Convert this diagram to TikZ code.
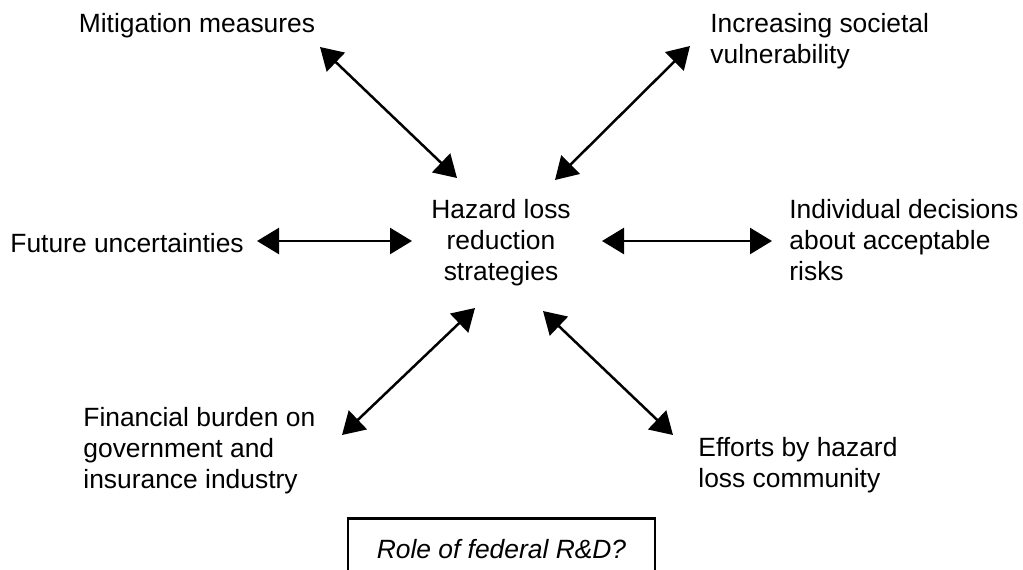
\documentclass[tikz,border=0pt]{standalone}
\usepackage{fontspec}
\setmainfont{Liberation Sans}
\usetikzlibrary{arrows.meta}

\tikzset{
  txt/.style={inner sep=0pt, font=\fontsize{13.2}{15.5}\selectfont},
  twoway/.style={{Triangle[length=11pt,width=13pt]}-{Triangle[length=11pt,width=13pt]}, line width=1.25pt}
}

\begin{document}
\begin{tikzpicture}[x=0.5pt,y=-0.5pt]
  \clip (0,0) rectangle (1023,569);
  \node[txt, anchor=north] (hazard) at (501,199) [align=center] {Hazard loss\\reduction\\strategies};
  \node[txt, anchor=north] (mitig) at (197,13) {Mitigation measures};
  \node[txt, anchor=north west, align=left] (vuln) at (710,13) {Increasing societal\\vulnerability};
  \node[txt, anchor=north west] (future) at (10,233) {Future uncertainties};
  \node[txt, anchor=north west, align=left] (indiv) at (789,199) {Individual decisions\\about acceptable\\risks};
  \node[txt, anchor=north west, align=left] (burden) at (83,407) {Financial burden on\\government and\\insurance industry};
  \node[txt, anchor=north west, align=left] (efforts) at (698,437) {Efforts by hazard\\loss community};
  \node[txt, draw, line width=1.25pt, minimum width=153.5pt, minimum height=30.5pt, font=\fontsize{13.2}{15.5}\selectfont\itshape] (role) at (501.5,549) {Role of federal R\&D?};
  % arrow ends
  \coordinate (m1) at (320,47);  \coordinate (m2) at (457,178);
  \coordinate (v1) at (690,46);  \coordinate (v2) at (555,180);
  \coordinate (f1) at (257,241); \coordinate (f2) at (412,241);
  \coordinate (i1) at (602,241); \coordinate (i2) at (772,241);
  \coordinate (b1) at (475,308); \coordinate (b2) at (342,435);
  \coordinate (e1) at (543,311); \coordinate (e2) at (673,435);
  \foreach \a/\b in {m1/m2,v1/v2,f1/f2,i1/i2,b1/b2,e1/e2}
  {
    \draw[twoway] (\a) -- (\b);
  }
\end{tikzpicture}
\end{document}
